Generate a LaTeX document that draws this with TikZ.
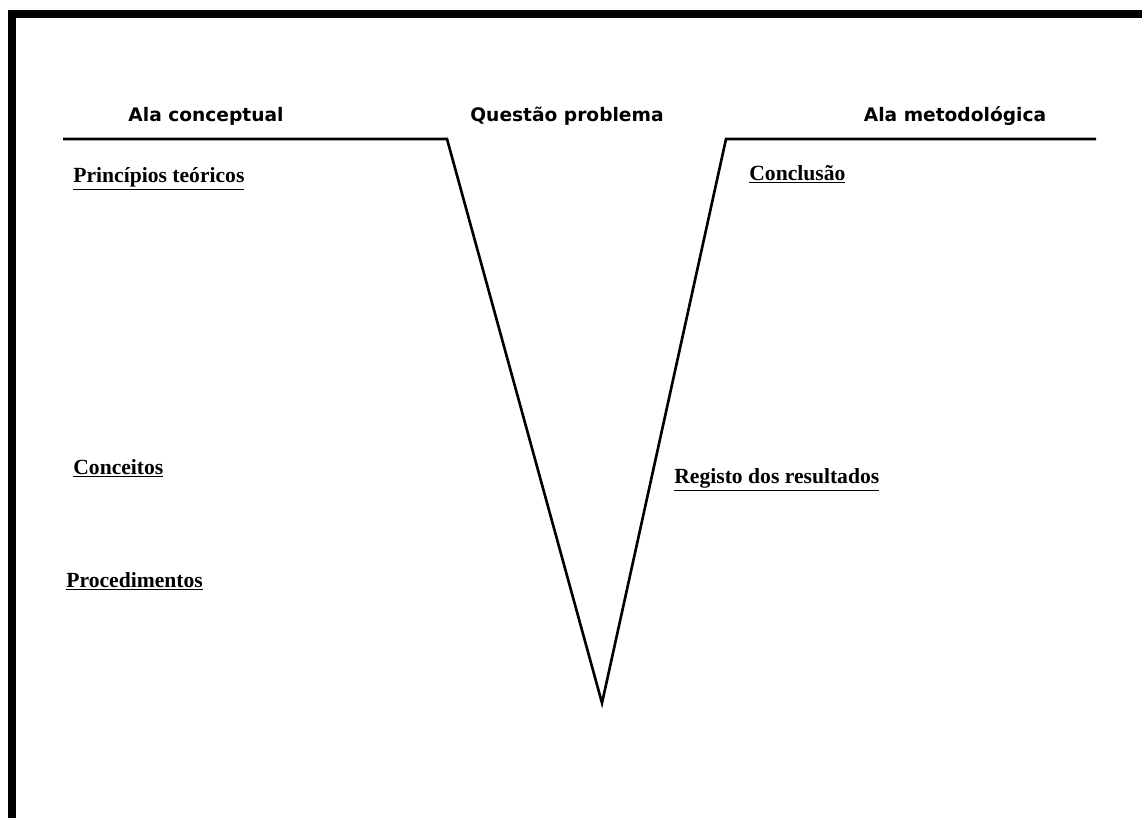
\documentclass[tikz,border=0pt]{standalone}
\usepackage{fontspec}
\setmainfont{Liberation Serif}
\newfontfamily\headfont{DejaVu Sans}
\begin{document}
\begin{tikzpicture}[
	x=0.02cm, y=-0.02cm,
	heading/.style={ anchor=base, inner sep=0pt, font=\headfont\bfseries\fontsize{10.6}{12}\selectfont },
	item/.style={ anchor=base west, inner sep=0pt, font=\bfseries\fontsize{12.3}{14}\selectfont },
	vline/.style={ line width=1.5pt, line join=miter }
]

\useasboundingbox (0,0) rectangle (1142,818);
\fill[black] (8,10) rectangle (1142,18);
\fill[black] (8,10) rectangle (16,818);

\coordinate (lend) at (63,139);
\coordinate (ltop) at (447,139);
\coordinate (apex) at (602,703);
\coordinate (rtop) at (726,139);
\coordinate (rend) at (1096,139);
\draw[vline] (lend) -- (ltop) -- (apex) -- (rtop) -- (rend);

\node at (206,121) (conceptual) [heading] {Ala conceptual};
\node at (567,121) (question) [heading] {Questão problema};
\node at (955,121) (method) [heading] {Ala metodológica};

\node at (73,182) (principles) [item] {\underline{Princípios teóricos}};
\node at (73,474) (concepts) [item] {\underline{Conceitos}};
\node at (66,587) (procedures) [item] {\underline{Procedimentos}};
\node at (749,180) (conclusion) [item] {\underline{Conclusão}};
\node at (674,483) (results) [item] {\underline{Registo dos resultados}};

\end{tikzpicture}
\end{document}
